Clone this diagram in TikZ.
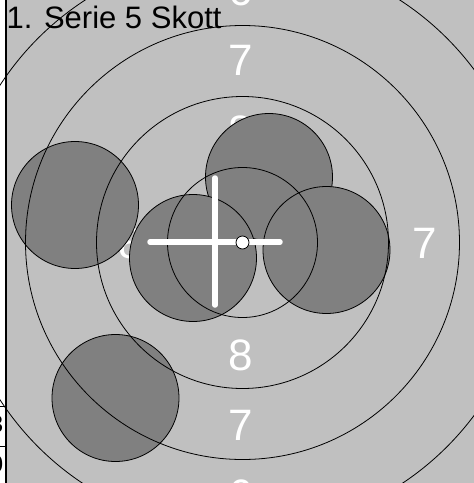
\documentclass[tikz,border=0pt]{standalone}
\usepackage{fontspec}
\setmainfont{Liberation Sans}
\usepackage{tikz}
\usetikzlibrary{positioning}
\definecolor{tgtgray}{HTML}{C0C0C0}
\definecolor{shotgray}{HTML}{808080}

\begin{document}
\begin{tikzpicture}[x=1pt,y=-1pt,
  ring/.style={circle,draw=black,line width=0.8pt,inner sep=0pt},
  shot/.style={circle,fill=shotgray,draw=black,line width=0.8pt,minimum size=127pt,inner sep=0pt},
  ringnum/.style={text=white,inner sep=0pt,font=\fontsize{44}{44}\selectfont},
  aim/.style={white,line width=5.5pt,line cap=round}]
\useasboundingbox (0,0) rectangle (474,483);
\clip (0,0) rectangle (474,483);
% page strip and target area
\fill[white] (0,0) rectangle (5,483);
\fill[black] (5,0) rectangle (7,483);
\fill[tgtgray] (7,0) rectangle (474,483);
\draw[black,line width=0.8pt] (0,406) -- (5,406);
\draw[black,line width=0.8pt] (0,446) -- (5,446);
\node[anchor=east,inner sep=0pt,font=\fontsize{24}{24}\selectfont] (t3) at (3.5,424) {3};
\node[anchor=east,inner sep=0pt,font=\fontsize{24}{24}\selectfont] (t0) at (3.5,464) {0};
% ring numbers
\node[ringnum] (n6t) at (241,-10) {6};
\node[ringnum] (n7t) at (241,60) {7};
\node[ringnum] (n8t) at (241,131) {8};
\node[ringnum] (n8l) at (131,243) {8};
\node[ringnum] (n7l) at (60,243) {7};
\node[ringnum] (n8r) at (354,243) {8};
\node[ringnum] (n7r) at (425,243) {7};
\node[ringnum] (n8b) at (241,355) {8};
\node[ringnum] (n7b) at (241,425) {7};
\node[ringnum] (n6b) at (241,495) {6};
% shots
\node[shot] (s1) at (75,205) {};
\node[shot] (s2) at (269,177) {};
\node[shot] (s3) at (326.5,250) {};
\node[shot] (s4) at (193,258) {};
\node[shot] (s5) at (115.5,398) {};
% rings
\coordinate (c) at (242.5,242.5);
\node[ring,minimum size=150pt] (r9) at (c) {};
\node[ring,minimum size=292pt] (r8) at (c) {};
\node[ring,minimum size=434pt] (r7) at (c) {};
\node[ring,minimum size=578pt] (r6) at (c) {};
% mean point cross
\coordinate (aimL) at (150,242);
\coordinate (aimR) at (280,242);
\coordinate (aimT) at (215,178);
\coordinate (aimB) at (215,305);
\draw[aim] (aimL) -- (aimR);
\draw[aim] (aimT) -- (aimB);
\node[circle,fill=white,draw=black,line width=0.8pt,minimum size=13pt,inner sep=0pt] (mid) at (c) {};
\node[anchor=base west,inner sep=0pt,font=\fontsize{31}{31}\selectfont] (title) at (6.5,28) {1. Serie 5 Skott};
\end{tikzpicture}
\end{document}
